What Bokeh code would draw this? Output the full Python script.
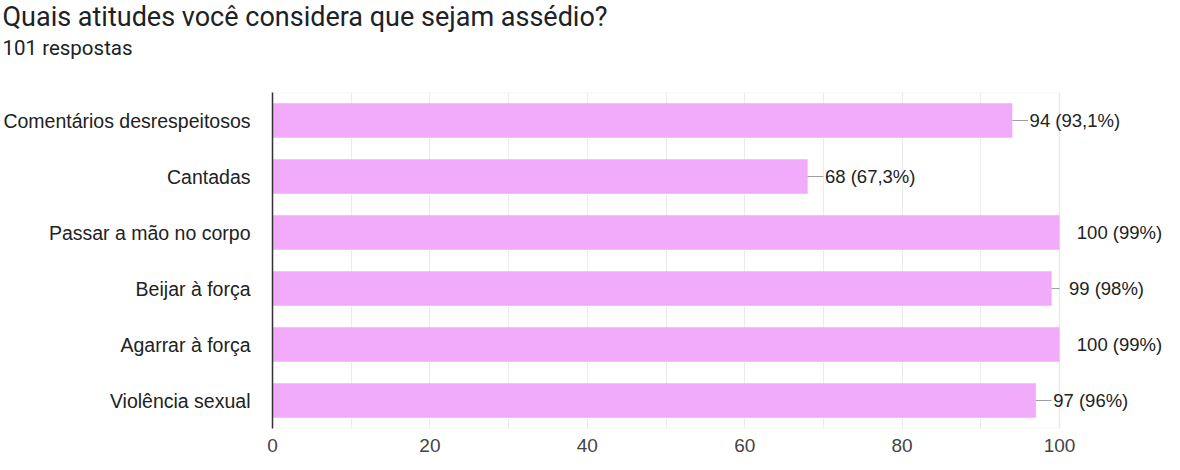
from bokeh.plotting import figure
from bokeh.models import Range1d, FactorRange, FixedTicker, Title, BoxAnnotation, ColumnDataSource
from bokeh.core.properties import value
from bokeh.embed import file_html
from bokeh.resources import INLINE

title_text = "Quais atitudes você considera que sejam assédio?"
subtitle_text = "101 respostas"
categories = ["Comentários desrespeitosos", "Cantadas", "Passar a mão no corpo",
              "Beijar à força", "Agarrar à força", "Violência sexual"]
counts = [94, 68, 100, 99, 100, 97]
percents = ["93,1%", "67,3%", "99%", "98%", "99%", "96%"]
x_ticks = [0, 20, 40, 60, 80, 100]
grid_ticks = [0, 10, 20, 30, 40, 50, 60, 70, 80, 90, 100]

AXIS_MAX = 100
labels = [f"{c} ({pc})" for c, pc in zip(counts, percents)]
src = ColumnDataSource(dict(
    cat=categories, n=counts, lab=labels,
    x1=[min(c + 2.0, AXIS_MAX) for c in counts],
    xt=[c + 2.2 for c in counts],
))

p = figure(width=1164, height=454, title=None,
           y_range=FactorRange(factors=list(reversed(categories))),
           x_range=Range1d(0, 113.34),
           output_backend="svg", toolbar_location=None,
           min_border_left=272, min_border_right=0,
           min_border_top=0, min_border_bottom=26)
p.outline_line_color = None
p.background_fill_color = "white"
p.border_fill_color = "white"

box = BoxAnnotation(left=0, right=AXIS_MAX, fill_alpha=0, line_color="#e3e3e3",
                    line_width=2, level="underlay")
p.add_layout(box)

p.hbar(y="cat", left=0, right="n", height=0.62, source=src,
       fill_color="#f2aafa", line_color=None)
p.segment(x0="n", y0="cat", x1="x1", y1="cat", source=src,
          line_color="#9e9e9e", line_width=1)
p.text(x="xt", y="cat", text="lab", source=src,
       text_font=value("Liberation Sans"), text_font_size="18.5px",
       text_color="#222222", text_baseline="middle", text_align="left")

p.ygrid.grid_line_color = None
p.xgrid.ticker = FixedTicker(ticks=grid_ticks)
p.xgrid.grid_line_color = "#ebebeb"
p.xgrid.grid_line_width = 1

p.xaxis.ticker = FixedTicker(ticks=x_ticks)
p.xaxis.axis_line_color = None
p.xaxis.major_tick_line_color = None
p.xaxis.minor_tick_line_color = None
p.xaxis.major_label_text_font = "Liberation Sans"
p.xaxis.major_label_text_font_size = "19px"
p.xaxis.major_label_text_color = "#444444"
p.xaxis.major_label_standoff = 4

p.yaxis.axis_line_color = "#333333"
p.yaxis.axis_line_width = 1.5
p.yaxis.major_tick_line_color = None
p.yaxis.minor_tick_line_color = None
p.yaxis.major_label_text_font = "Liberation Sans"
p.yaxis.major_label_text_font_size = "19.5px"
p.yaxis.major_label_text_color = "#222222"
p.yaxis.major_label_standoff = 16

# spacer between the subtitle and the plot area
p.add_layout(Title(text=" ", standoff=27, text_font_size="1px"), "above")
p.add_layout(Title(text=subtitle_text, align="left", offset=-270, standoff=6,
                   text_font="Roboto", text_font_size="20.5px",
                   text_font_style="normal", text_color="#202124"), "above")
p.add_layout(Title(text=title_text, align="left", offset=-270, standoff=-4,
                   text_font="Roboto", text_font_size="27px",
                   text_font_style="normal", text_color="#202124"), "above")

open("out.html", "w").write(file_html(p, INLINE))
